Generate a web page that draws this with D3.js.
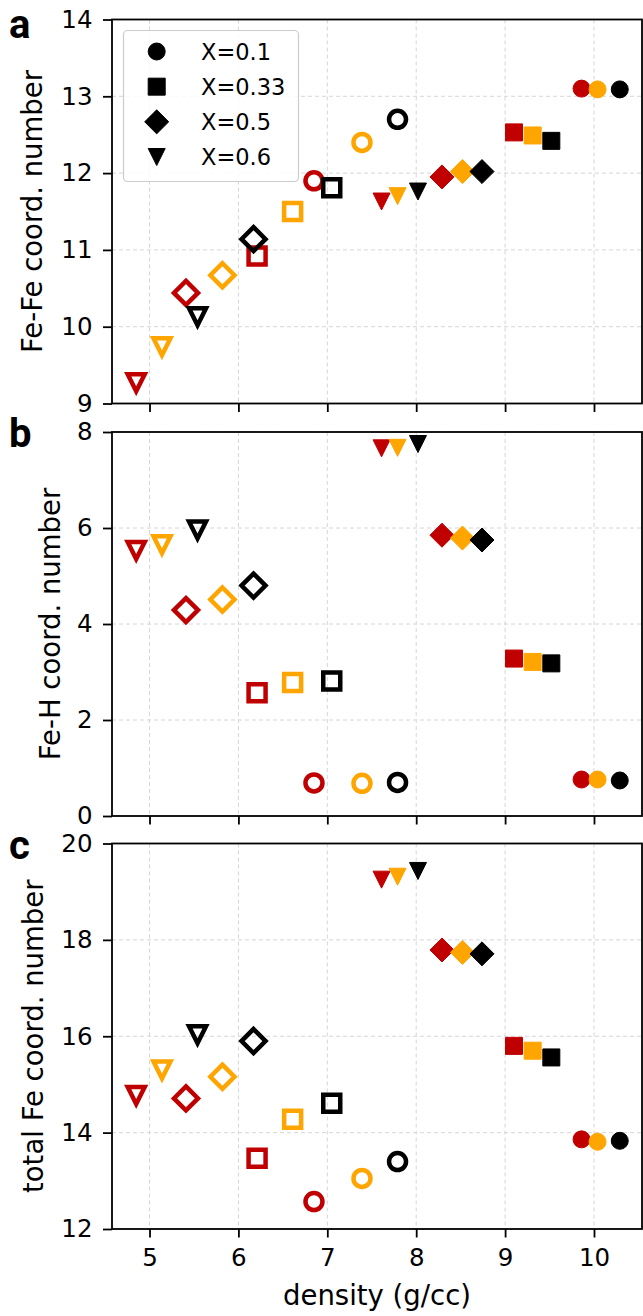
<!DOCTYPE html>
<html>
<head>
<meta charset="utf-8">
<script src="https://cdn.jsdelivr.net/npm/d3@7"></script>
<style>
  html, body { margin: 0; padding: 0; background: #fff; }
  svg { display: block; }
  text { font-family: "DejaVu Sans", sans-serif; fill: #000; }
</style>
</head>
<body>
<svg id="chart" width="643" height="1316"></svg>
<script>
// ---------------- DATA ----------------
// order of inner arrays: [red, orange, black]; outer arrays: X=0.1, X=0.33, X=0.5, X=0.6
const seriesLabels = ["X=0.1", "X=0.33", "X=0.5", "X=0.6"];
const seriesShapes = ["circle", "square", "diamond", "triangle"];
const colorValues = ["#c00000", "#ffa500", "#000000"];

const densityOpen   = [[6.85, 7.39, 7.79], [6.21, 6.61, 7.05], [5.41, 5.82, 6.17], [4.85, 5.14, 5.54]];
const densityFilled = [[9.86, 10.04, 10.29], [9.10, 9.31, 9.52], [8.29, 8.52, 8.74], [7.61, 7.79, 8.02]];

const feFeOpen   = [[11.90, 12.40, 12.70], [10.92, 11.50, 11.81], [10.44, 10.67, 11.14], [9.27, 9.74, 10.13]];
const feFeFilled = [[13.10, 13.09, 13.09], [12.53, 12.49, 12.42], [11.95, 12.02, 12.02], [11.63, 11.70, 11.76]];

const feHOpen   = [[0.69, 0.68, 0.70], [2.57, 2.78, 2.81], [4.29, 4.51, 4.80], [5.53, 5.65, 5.96]];
const feHFilled = [[0.76, 0.76, 0.74], [3.28, 3.21, 3.18], [5.85, 5.79, 5.75], [7.66, 7.67, 7.75]];

const totalOpen   = [[12.57, 13.05, 13.40], [13.47, 14.28, 14.61], [14.71, 15.16, 15.90], [14.77, 15.30, 16.03]];
const totalFilled = [[13.86, 13.81, 13.83], [15.80, 15.70, 15.56], [17.79, 17.74, 17.71], [19.25, 19.31, 19.43]];

const xTicks = [5, 6, 7, 8, 9, 10];
const yTicksA = [9, 10, 11, 12, 13, 14];
const yTicksB = [0, 2, 4, 6, 8];
const yTicksC = [12, 14, 16, 18, 20];
const xLabel = "density (g/cc)";
const yLabels = ["Fe-Fe coord. number", "Fe-H coord. number", "total Fe coord. number"];
const panelLetters = ["a", "b", "c"];

// ---------------- LAYOUT ----------------
const svg = d3.select("#chart");
const left = 112, right = 642;
const x = d3.scaleLinear().domain([4.578, 10.54]).range([left, right]);

const panels = [
  { top: 19.5, bottom: 403.5, domain: [9, 14], ticks: yTicksA, open: feFeOpen, filled: feFeFilled,
    label: yLabels[0], labelX: 42, letter: panelLetters[0], letterY: 37.5, showX: false },
  { top: 432, bottom: 816, domain: [0, 8], ticks: yTicksB, open: feHOpen, filled: feHFilled,
    label: yLabels[1], labelX: 60, letter: panelLetters[1], letterY: 447, showX: false },
  { top: 843.5, bottom: 1229, domain: [12, 20], ticks: yTicksC, open: totalOpen, filled: totalFilled,
    label: yLabels[2], labelX: 43, letter: panelLetters[2], letterY: 859, showX: true }
];

const S = 17;        // marker size
const MEW_OPEN = 4.5;

function markerPath(shape, s) {
  const h = s / 2;
  if (shape === "circle") {
    return d3.symbol(d3.symbolCircle, Math.PI * h * h)();
  }
  if (shape === "square") {
    return `M${-h},${-h}L${h},${-h}L${h},${h}L${-h},${h}Z`;
  }
  if (shape === "diamond") {
    const d = s / Math.SQRT2;
    return `M0,${-d}L${d},0L0,${d}L${-d},0Z`;
  }
  // triangle down
  return `M${-h},${-h}L${h},${-h}L0,${h}Z`;
}

panels.forEach(p => {
  const y = d3.scaleLinear().domain(p.domain).range([p.bottom, p.top]);
  const g = svg.append("g");

  // grid
  g.append("g").selectAll("line").data(xTicks).join("line")
    .attr("x1", d => x(d)).attr("x2", d => x(d))
    .attr("y1", p.top).attr("y2", p.bottom)
    .attr("stroke", "#d6d6d6").attr("stroke-width", 1).attr("stroke-dasharray", "4,3");
  g.append("g").selectAll("line").data(p.ticks).join("line")
    .attr("x1", left).attr("x2", right)
    .attr("y1", d => y(d)).attr("y2", d => y(d))
    .attr("stroke", "#d6d6d6").attr("stroke-width", 1).attr("stroke-dasharray", "4,3");

  // axes
  const yAxis = d3.axisLeft(y).tickValues(p.ticks).tickSize(9).tickPadding(10.5).tickFormat(d3.format("d"));
  const ya = g.append("g").attr("transform", `translate(${left},0)`).call(yAxis);
  ya.select(".domain").remove();
  ya.selectAll(".tick line").attr("stroke", "#000").attr("stroke-width", 1.8);
  ya.selectAll(".tick text").attr("font-size", "24.5px").attr("font-family", "DejaVu Sans").attr("fill", "#000");

  const xAxis = d3.axisBottom(x).tickValues(xTicks).tickSize(8.5).tickPadding(11.5)
    .tickFormat(p.showX ? d3.format("d") : "");
  const xa = g.append("g").attr("transform", `translate(0,${p.bottom})`).call(xAxis);
  xa.select(".domain").remove();
  xa.selectAll(".tick line").attr("stroke", "#000").attr("stroke-width", 1.8);
  xa.selectAll(".tick text").attr("font-size", "24.5px").attr("font-family", "DejaVu Sans").attr("fill", "#000");

  // frame
  g.append("rect").attr("x", left).attr("y", p.top)
    .attr("width", right - left).attr("height", p.bottom - p.top)
    .attr("fill", "none").attr("stroke", "#000").attr("stroke-width", 1.8);

  // points: draw colours in order red, orange, black
  const pts = [];
  colorValues.forEach((c, ci) => {
    seriesShapes.forEach((shape, si) => {
      pts.push({ shape, color: c, open: true, xv: densityOpen[si][ci], yv: p.open[si][ci] });
    });
    seriesShapes.forEach((shape, si) => {
      pts.push({ shape, color: c, open: false, xv: densityFilled[si][ci], yv: p.filled[si][ci] });
    });
  });
  g.append("g").selectAll("path").data(pts).join("path")
    .attr("d", d => markerPath(d.shape, S))
    .attr("transform", d => `translate(${x(d.xv)},${y(d.yv)})`)
    .attr("fill", d => d.open ? "none" : d.color)
    .attr("stroke", d => d.color)
    .attr("stroke-width", d => d.open ? MEW_OPEN : 1)
    .attr("stroke-linejoin", "miter");

  // y label
  g.append("text")
    .attr("transform", `translate(${p.labelX},${(p.top + p.bottom) / 2}) rotate(-90)`)
    .attr("text-anchor", "middle")
    .attr("font-size", "27.5px")
    .text(p.label);

  // panel letter
  g.append("text")
    .attr("x", 9).attr("y", p.letterY)
    .attr("font-weight", 700)
    .attr("font-size", "40px")
    .style("font-family", "Roboto, 'Liberation Sans', sans-serif")
    .text(p.letter);

  if (p.showX) {
    g.append("text")
      .attr("x", (left + right) / 2).attr("y", 1305)
      .attr("text-anchor", "middle")
      .attr("font-size", "27.5px")
      .text(xLabel);
  }
});

// ---------------- LEGEND ----------------
const leg = svg.append("g");
leg.append("rect").attr("x", 123.5).attr("y", 30.5).attr("width", 175).attr("height", 151)
  .attr("rx", 4).attr("fill", "#fff").attr("fill-opacity", 0.85)
  .attr("stroke", "#cccccc").attr("stroke-width", 1.2);
const legY = d3.scalePoint().domain(seriesLabels).range([51.5, 157]);
seriesLabels.forEach((lab, i) => {
  leg.append("path")
    .attr("d", markerPath(seriesShapes[i], S))
    .attr("transform", `translate(156.7,${legY(lab)})`)
    .attr("fill", "#000").attr("stroke", "#000").attr("stroke-width", 1);
  leg.append("text")
    .attr("x", 201).attr("y", legY(lab))
    .attr("dy", "0.36em")
    .attr("font-size", "22.5px")
    .text(lab);
});
</script>
</body>
</html>
